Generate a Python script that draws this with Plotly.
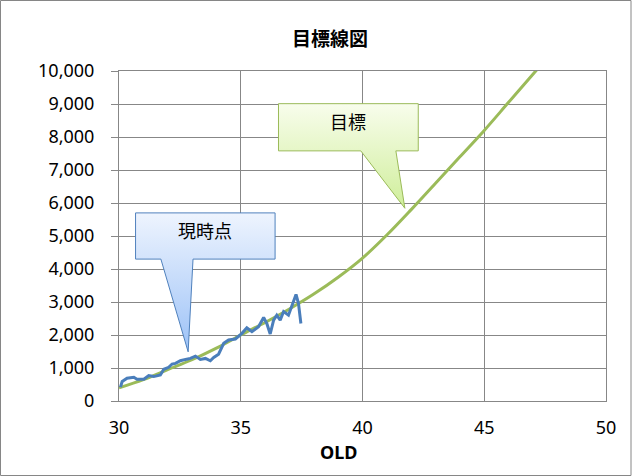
import plotly.graph_objects as go

# target curve (目標)
x_target = [30, 31, 32, 33, 34, 35, 36, 37, 38, 39, 40, 41, 42, 43, 44, 45, 46, 47, 48]
y_target = [400, 650, 950, 1250, 1600, 2000, 2380, 2790, 3240, 3750, 4330, 5030,
            5800, 6600, 7400, 8200, 9050, 9900, 10760]

# current record (現時点)
x_now = [30.06, 30.13, 30.33, 30.61, 30.74, 31.02, 31.22, 31.43, 31.70, 31.84,
         32.04, 32.18, 32.32, 32.52, 32.73, 32.93, 33.14, 33.34, 33.55, 33.75,
         33.89, 34.09, 34.30, 34.50, 34.78, 35.05, 35.25, 35.46, 35.73, 35.94,
         36.07, 36.21, 36.35, 36.48, 36.62, 36.76, 36.96, 37.14, 37.27, 37.37, 37.47]
y_now = [420, 590, 690, 720, 660, 660, 770, 740, 790, 960,
         1020, 1120, 1140, 1220, 1260, 1290, 1360, 1260, 1290, 1220,
         1320, 1420, 1750, 1850, 1880, 2050, 2220, 2100, 2250, 2530,
         2350, 2030, 2450, 2600, 2450, 2710, 2600, 2940, 3230, 2960, 2350]

x_ticks = [30, 35, 40, 45, 50]

# callout outlines (box + pointer), in data units
callout_now_x = [30.68, 36.41, 36.41, 33.04, 32.84, 31.72, 30.68, 30.68]
callout_now_y = [5700, 5700, 4300, 4300, 1490, 4300, 4300, 5700]
callout_goal_x = [36.55, 42.29, 42.29, 41.37, 41.74, 39.93, 36.55, 36.55]
callout_goal_y = [9010, 9010, 7580, 7580, 5840, 7580, 7580, 9010]

fig = go.Figure()

fig.add_trace(go.Scatter(x=x_target, y=y_target, mode='lines', name='目標',
                         line=dict(color='#9bbb59', width=3, shape='spline')))
fig.add_trace(go.Scatter(x=x_now, y=y_now, mode='lines', name='現時点',
                         line=dict(color='#4a7ebb', width=3)))

fig.add_trace(go.Scatter(x=callout_goal_x, y=callout_goal_y, mode='lines', fill='toself',
                         line=dict(color='#9bbb59', width=1),
                         fillgradient=dict(type='vertical',
                                           colorscale=[[0, '#cfee9a'], [1, '#f8fdec']]),
                         hoverinfo='skip'))
fig.add_trace(go.Scatter(x=callout_now_x, y=callout_now_y, mode='lines', fill='toself',
                         line=dict(color='#4f81bd', width=1),
                         fillgradient=dict(type='vertical',
                                           colorscale=[[0, '#9cc2f7'], [1, '#eef4fe']]),
                         hoverinfo='skip'))

fig.add_annotation(x=39.41, y=8500, text='目標', showarrow=False,
                   font=dict(family='Noto Sans CJK JP', size=18, color='black'))
fig.add_annotation(x=33.55, y=5180, text='現時点', showarrow=False,
                   font=dict(family='Noto Sans CJK JP', size=18, color='black'))

fig.add_annotation(x=(338 - 119) / 487, y=(401 - 452) / 330, xref='paper', yref='paper',
                   xanchor='center', yanchor='middle',
                   text='<b>OLD</b>', showarrow=False,
                   font=dict(family='Noto Sans', size=18, color='black'))

# outer chart border
fig.add_shape(type='rect', xref='paper', yref='paper',
              x0=(0.5 - 119) / 487, x1=(631 - 119) / 487,
              y0=(401 - 475.5) / 330, y1=(401 - 0.5) / 330,
              line=dict(color='#868686', width=1))

fig.update_layout(
    width=632, height=476,
    margin=dict(l=119, r=26, t=71, b=75),
    paper_bgcolor='white', plot_bgcolor='white',
    showlegend=False,
    title=dict(text='<b>目標線図</b>', x=330 / 632, xref='container', xanchor='center',
               y=1 - 39 / 476, yref='container', yanchor='middle',
               font=dict(family='Noto Sans CJK JP', size=19, color='black')),
    font=dict(family='Noto Sans', size=18, color='black'),
)

fig.update_xaxes(range=[30, 50], tickvals=x_ticks, showgrid=True, gridcolor='#878787',
                 gridwidth=1, showline=True, linecolor='#878787', mirror=True,
                 ticks='', ticklabelstandoff=10, zeroline=False)
fig.update_yaxes(range=[0, 10000], dtick=1000, tickformat=',', showgrid=True,
                 gridcolor='#878787', gridwidth=1, showline=True, linecolor='#878787',
                 mirror=True, ticks='outside', ticklen=7, tickcolor='#878787',
                 ticklabelstandoff=13, zeroline=False)

# page has a default body margin; remove it so the chart sits at the window corner
fig.write_html("out.html", config={'displayModeBar': False},
               post_script="document.body.style.margin='0';")
